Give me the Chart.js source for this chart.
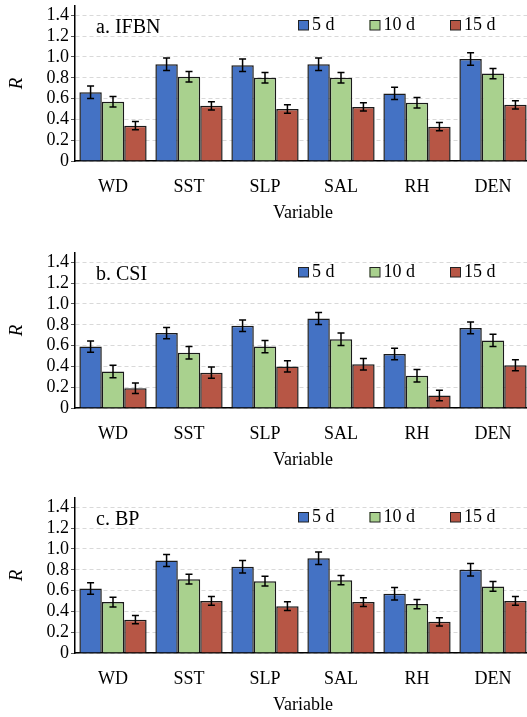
<!DOCTYPE html>
<html>
<head>
<meta charset="utf-8">
<script src="https://cdn.jsdelivr.net/npm/chart.js@4.4.0/dist/chart.umd.min.js"></script>
<style>
  body { margin: 0; width: 527px; height: 717px; overflow: hidden; background: #fff; position: relative; }
  .panel { position: absolute; left: 0; width: 531px; height: 245px; }
</style>
</head>
<body>
<div class="panel" style="top:0px"><canvas id="c1"></canvas></div>
<div class="panel" style="top:247px"><canvas id="c2"></canvas></div>
<div class="panel" style="top:492px"><canvas id="c3"></canvas></div>
<script>
// categories and series
var categories = ['WD', 'SST', 'SLP', 'SAL', 'RH', 'DEN'];
var seriesLabels = ['5 d', '10 d', '15 d'];
var yTicks = [0, 0.2, 0.4, 0.6, 0.8, 1.0, 1.2, 1.4];

// a. IFBN
var ifbn5 = [0.66, 0.93, 0.92, 0.93, 0.65, 0.98];
var ifbn10 = [0.57, 0.81, 0.80, 0.80, 0.56, 0.84];
var ifbn15 = [0.34, 0.53, 0.50, 0.52, 0.33, 0.54];
var ifbnErr5 = [0.06, 0.06, 0.06, 0.06, 0.06, 0.06];
var ifbnErr10 = [0.05, 0.05, 0.05, 0.05, 0.05, 0.05];
var ifbnErr15 = [0.04, 0.04, 0.04, 0.04, 0.04, 0.04];

// b. CSI
var csi5 = [0.59, 0.72, 0.79, 0.86, 0.52, 0.77];
var csi10 = [0.35, 0.53, 0.59, 0.66, 0.31, 0.65];
var csi15 = [0.19, 0.34, 0.40, 0.42, 0.12, 0.41];
var csiErr5 = [0.055, 0.055, 0.055, 0.058, 0.055, 0.056];
var csiErr10 = [0.06, 0.06, 0.06, 0.06, 0.06, 0.06];
var csiErr15 = [0.05, 0.055, 0.055, 0.055, 0.05, 0.053];

// c. BP
var bp5 = [0.62, 0.89, 0.83, 0.91, 0.57, 0.80];
var bp10 = [0.49, 0.71, 0.69, 0.70, 0.47, 0.64];
var bp15 = [0.32, 0.50, 0.45, 0.49, 0.30, 0.50];
var bpErr5 = [0.056, 0.058, 0.06, 0.06, 0.06, 0.06];
var bpErr10 = [0.047, 0.047, 0.047, 0.045, 0.045, 0.047];
var bpErr15 = [0.04, 0.042, 0.042, 0.042, 0.04, 0.042];

var colors = ['#4472C4', '#A9D18E', '#B75645'];
var serif = 'Liberation Serif';

// error bars from each dataset's errors array
var errorBars = {
    id: 'errorBars',
    afterDatasetsDraw: function(chart) {
        var ctx = chart.ctx;
        var y = chart.scales.y;
        ctx.save();
        ctx.strokeStyle = '#000';
        ctx.lineWidth = 1.5;
        chart.data.datasets.forEach(function(ds, i) {
            chart.getDatasetMeta(i).data.forEach(function(bar, j) {
                var v = ds.data[j], e = ds.errors[j];
                var top = y.getPixelForValue(v + e);
                var bot = y.getPixelForValue(v - e);
                ctx.beginPath();
                ctx.moveTo(bar.x, top); ctx.lineTo(bar.x, bot);
                ctx.moveTo(bar.x - 3.5, top); ctx.lineTo(bar.x + 3.5, top);
                ctx.moveTo(bar.x - 3.5, bot); ctx.lineTo(bar.x + 3.5, bot);
                ctx.stroke();
            });
        });
        ctx.restore();
    }
};

// panel name and legend inside the plot
var insideText = {
    id: 'insideText',
    afterDraw: function(chart, args, opts) {
        var ctx = chart.ctx;
        var area = chart.chartArea;
        ctx.save();
        ctx.fillStyle = '#000';
        ctx.textBaseline = 'middle';
        ctx.font = '20px "' + serif + '"';
        ctx.fillText(opts.name, area.left + 21, area.top + 22);

        ctx.font = '18px "' + serif + '"';
        var x = area.left + 223;
        chart.data.datasets.forEach(function(ds) {
            ctx.fillStyle = ds.backgroundColor;
            ctx.fillRect(x, area.top + 14, 10.5, 10);
            ctx.strokeStyle = '#222';
            ctx.lineWidth = 1;
            ctx.strokeRect(x + 0.5, area.top + 14.5, 10, 9.5);
            ctx.fillStyle = '#000';
            ctx.fillText(ds.label, x + 14, area.top + 19);
            x += 14 + ctx.measureText(ds.label).width + 35;
        });
        ctx.restore();
    }
};

function makePanel(id, name, s5, s10, s15, e5, e10, e15) {
    var series = [s5, s10, s15];
    var errs = [e5, e10, e15];
    new Chart(document.getElementById(id), {
        type: 'bar',
        data: {
            labels: categories,
            datasets: seriesLabels.map(function(lbl, k) {
                return {
                    label: lbl,
                    data: series[k],
                    errors: errs[k],
                    backgroundColor: colors[k],
                    borderColor: '#1a1a1a',
                    borderWidth: 1.5,
                    categoryPercentage: 0.885,
                    barPercentage: 1
                };
            })
        },
        options: {
            responsive: true,
            maintainAspectRatio: false,
            animation: false,
            layout: { padding: { top: 6, left: 0, right: 0, bottom: 0 } },
            plugins: {
                legend: { display: false },
                tooltip: { enabled: false },
                insideText: { name: name }
            },
            scales: {
                x: {
                    grid: { display: false },
                    border: { color: '#000', width: 1.5 },
                    ticks: { color: '#000', padding: 7, font: { family: serif, size: 18 } },
                    title: {
                        display: true, text: 'Variable', color: '#000',
                        font: { family: serif, size: 18 }, padding: { top: 0, bottom: 21 }
                    },
                    afterFit: function(s) {
                        s.height = 84;
                        s.paddingLeft = 0; s.paddingRight = 0;
                    }
                },
                y: {
                    min: 0,
                    max: 1.49,
                    afterBuildTicks: function(s) {
                        s.ticks = yTicks.map(function(v) { return { value: v }; });
                    },
                    grid: {
                        color: '#d9d9d9', lineWidth: 1,
                        tickLength: 4, tickColor: '#555', tickBorderDash: []
                    },
                    border: { color: '#000', width: 1.5, dash: [4, 3] },
                    ticks: {
                        color: '#000', padding: 2, autoSkip: false, font: { family: serif, size: 18 },
                        callback: function(v) { return v === 0 ? '0' : v.toFixed(1); }
                    },
                    title: {
                        display: true, text: 'R', color: '#000',
                        font: { family: serif, size: 19, style: 'italic' }, padding: { top: 6, bottom: 0 }
                    },
                    afterFit: function(s) {
                        s.width = 75;
                        s.paddingTop = 0; s.paddingBottom = 0;
                    }
                }
            }
        },
        plugins: [errorBars, insideText]
    });
}

makePanel('c1', 'a. IFBN', ifbn5, ifbn10, ifbn15, ifbnErr5, ifbnErr10, ifbnErr15);
makePanel('c2', 'b. CSI', csi5, csi10, csi15, csiErr5, csiErr10, csiErr15);
makePanel('c3', 'c. BP', bp5, bp10, bp15, bpErr5, bpErr10, bpErr15);
</script>
</body>
</html>
